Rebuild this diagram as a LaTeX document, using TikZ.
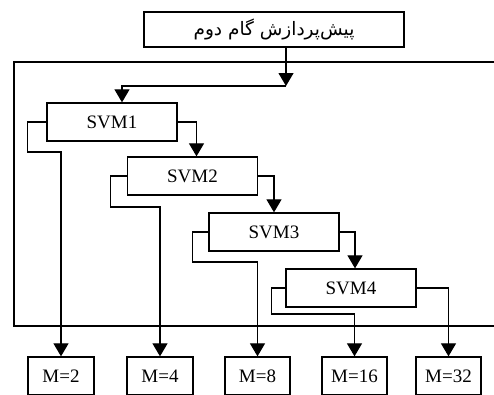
\documentclass[tikz,border=0pt]{standalone}
\usepackage{fontspec}
\setmainfont{Liberation Serif}
\newfontfamily\farsifont[Script=Arabic]{DejaVu Sans}
\TeXXeTstate=1
\usetikzlibrary{arrows.meta}
\tikzset{
  box/.style={draw, line width=1.3pt, inner sep=0pt, font=\fontsize{19}{22}\selectfont},
  svmbox/.style={box, minimum width=130, minimum height=38},
  outbox/.style={box, minimum width=65, minimum height=38},
  link/.style={line width=1.2pt, -{Triangle[width=15pt,length=13pt]}}
}
\begin{document}
\begin{tikzpicture}[x=1pt, y=-1pt]
  \clip (0,0) rectangle (494,394);
  \fill[white] (0,0) rectangle (494,394);

  % outer frame, open on the right
  \draw[line width=1.3pt] (500,62) -- (14,62) -- (14,326) -- (500,326);

  \node[box, minimum width=260, minimum height=35] (pre) at (274,29.5)
    {\farsifont\fontsize{18.5}{22}\selectfont\beginR پیش‌پردازش گام دوم\endR};

  \node[svmbox] (svm1) at (112,122) {SVM1};
  \node[svmbox] (svm2) at (192.5,176) {SVM2};
  \node[svmbox] (svm3) at (274,232) {SVM3};
  \node[svmbox] (svm4) at (351,288) {SVM4};

  \node[outbox, minimum width=66] (m2) at (61,376) {M=2};
  \node[outbox, minimum width=66] (m4) at (160,376) {M=4};
  \node[outbox] (m8) at (257.5,376) {M=8};
  \node[outbox] (m16) at (354.5,376) {M=16};
  \node[outbox] (m32) at (448.5,376) {M=32};

  \coordinate (split) at (286,86);
  \draw[link] ([xshift=12]pre.south) -- (split);
  \draw[link] (split) -| ([xshift=10]svm1.north);

  % right exits
  \draw[link] (svm1.east) -| ([xshift=4]svm2.north);
  \draw[link] (svm2.east) -| (svm3.north);
  \draw[link] (svm3.east) -| ([xshift=4]svm4.north);
  \draw[link] (svm4.east) -| (m32.north);

  % left exits
  \draw[link] (svm1.west) -- ++(-19,0) -- ++(0,30) -| (m2.north);
  \draw[link] (svm2.west) -- ++(-16,0) -- ++(0,31) -| (m4.north);
  \draw[link] (svm3.west) -- ++(-16,0) -- ++(0,30) -| (m8.north);
  \draw[link] (svm4.west) -- ++(-14,0) -- ++(0,26) -| (m16.north);
\end{tikzpicture}
\end{document}
